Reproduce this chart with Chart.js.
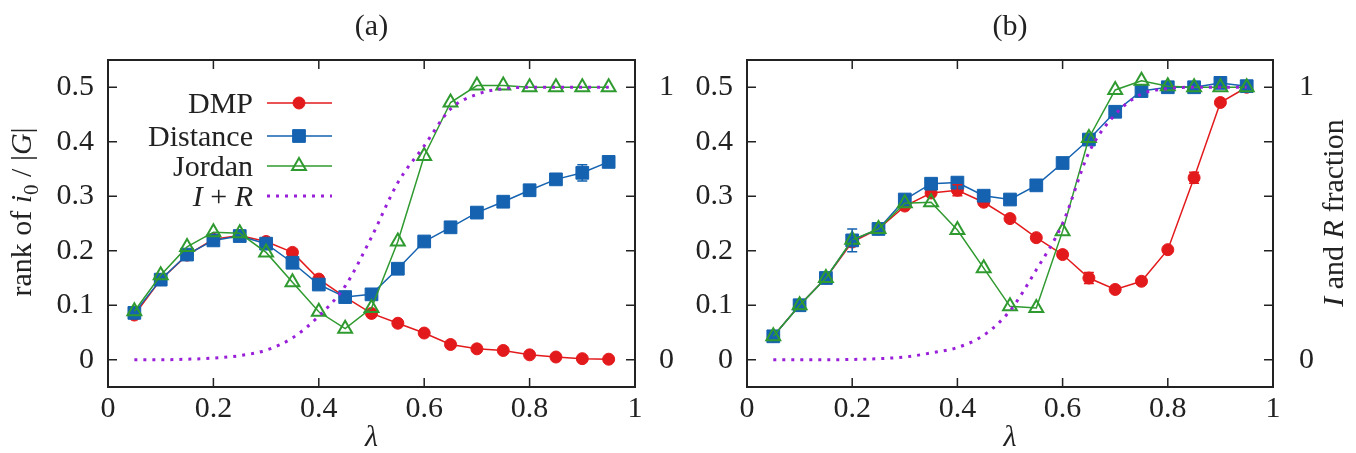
<!DOCTYPE html>
<html>
<head>
<meta charset="utf-8">
<script src="https://cdn.jsdelivr.net/npm/chart.js@4.4.1/dist/chart.umd.min.js"></script>
<style>
  body { margin: 0; background: #fff; }
  #wrap { position: relative; width: 1356px; height: 453px; }
  canvas { position: absolute; top: 0; }
</style>
</head>
<body>
<div id="wrap">
  <canvas id="chartA" width="678" height="453" style="left:0"></canvas>
  <canvas id="chartB" width="678" height="453" style="left:678px"></canvas>
</div>
<script>
// ================= DATA =================
const lambda = [0.05, 0.1, 0.15, 0.2, 0.25, 0.3, 0.35, 0.4, 0.45, 0.5,
                0.55, 0.6, 0.65, 0.7, 0.75, 0.8, 0.85, 0.9, 0.95];

// panel (a)
const dmpA      = [0.082, 0.147, 0.192, 0.221, 0.228, 0.217, 0.197, 0.148, 0.115, 0.085,
                   0.067, 0.049, 0.028, 0.020, 0.017, 0.009, 0.005, 0.002, 0.001];
const distanceA = [0.086, 0.147, 0.193, 0.219, 0.227, 0.213, 0.178, 0.138, 0.115, 0.120,
                   0.167, 0.217, 0.243, 0.270, 0.290, 0.311, 0.331, 0.343, 0.363];
const jordanA   = [0.089, 0.155, 0.207, 0.234, 0.232, 0.197, 0.142, 0.088, 0.057, 0.095,
                   0.217, 0.374, 0.472, 0.503, 0.503, 0.500, 0.500, 0.500, 0.500];
const irA       = [0.0, 0.0, 0.002, 0.006, 0.015, 0.035, 0.08, 0.16, 0.27, 0.45,
                   0.65, 0.785, 0.92, 0.974, 0.995, 1.0, 1.0, 1.0, 1.0];
const distanceErrA = [0, 0, 0, 0, 0, 0, 0, 0, 0, 0, 0, 0, 0, 0, 0, 0, 0, 0.015, 0.01];

// panel (b)
const dmpB      = [0.043, 0.100, 0.150, 0.216, 0.240, 0.282, 0.306, 0.311, 0.289, 0.259,
                   0.224, 0.193, 0.150, 0.129, 0.144, 0.202, 0.334, 0.472, 0.500];
const distanceB = [0.043, 0.100, 0.150, 0.219, 0.240, 0.294, 0.323, 0.325, 0.301, 0.294,
                   0.320, 0.361, 0.404, 0.455, 0.493, 0.500, 0.500, 0.508, 0.502];
const jordanB   = [0.043, 0.100, 0.150, 0.220, 0.240, 0.287, 0.289, 0.238, 0.168, 0.098,
                   0.095, 0.236, 0.407, 0.495, 0.512, 0.502, 0.500, 0.500, 0.500];
const irB       = [0.0, 0.0, 0.0, 0.001, 0.004, 0.01, 0.025, 0.045, 0.09, 0.18,
                   0.33, 0.5, 0.76, 0.9, 0.975, 0.995, 1.0, 1.0, 1.0];
const dmpErrB      = [0, 0, 0, 0, 0, 0, 0, 0.01, 0, 0, 0, 0, 0.01, 0, 0, 0, 0.01, 0, 0];
const distanceErrB = [0, 0, 0, 0.021, 0, 0, 0, 0, 0, 0, 0, 0, 0, 0, 0, 0, 0, 0, 0];

// ticks
const xTicks  = [0, 0.2, 0.4, 0.6, 0.8, 1];
const yTicks  = [0, 0.1, 0.2, 0.3, 0.4, 0.5];
const y2Ticks = [0, 1];

// ================= STYLE =================
const FONT = "'Liberation Serif', 'DejaVu Serif', serif";
const FS = 30;
const RED = '#e31a1c';
const BLUE = '#1462b0';
const GREEN = '#2f9a2f';
const PURPLE = '#9a1fd8';
const INK = '#222';
const TICK = 9;

function pts(vals) {
    return vals.map((v, i) => ({ x: lambda[i], y: v }));
}

function fmt(v) {
    if (v === 0) return '0';
    if (v === 1) return '1';
    return v.toFixed(1);
}

// draw text made of parts with different styles
function drawRich(ctx, parts, x, y, align, rot) {
    ctx.save();
    ctx.translate(x, y);
    ctx.rotate(rot || 0);
    ctx.fillStyle = INK;
    ctx.textBaseline = 'alphabetic';
    ctx.textAlign = 'left';
    const fontOf = p => (p.i ? 'italic ' : '') + (p.sub ? Math.round(FS * 0.7) : FS) + 'px ' + FONT;
    let w = 0;
    parts.forEach(p => { ctx.font = fontOf(p); w += ctx.measureText(p.t).width; });
    let cx = align === 'right' ? -w : align === 'center' ? -w / 2 : 0;
    parts.forEach(p => {
        ctx.font = fontOf(p);
        ctx.fillText(p.t, cx, p.sub ? FS * 0.22 : 0);
        cx += ctx.measureText(p.t).width;
    });
    ctx.restore();
}

// ================= PLUGINS =================
const framePlugin = {
    id: 'frame',
    beforeDatasetsDraw(chart) {
        const { ctx, chartArea: a, scales } = chart;
        ctx.save();
        ctx.strokeStyle = INK;
        ctx.lineWidth = 1.5;
        ctx.beginPath();
        xTicks.forEach(v => {
            const px = scales.x.getPixelForValue(v);
            ctx.moveTo(px, a.bottom); ctx.lineTo(px, a.bottom - TICK);
            ctx.moveTo(px, a.top); ctx.lineTo(px, a.top + TICK);
        });
        yTicks.forEach(v => {
            const py = scales.y.getPixelForValue(v);
            ctx.moveTo(a.left, py); ctx.lineTo(a.left + TICK, py);
            ctx.moveTo(a.right, py); ctx.lineTo(a.right - TICK, py);
        });
        ctx.stroke();
        ctx.lineWidth = 2;
        ctx.strokeRect(a.left, a.top, a.right - a.left, a.bottom - a.top);
        ctx.restore();
    }
};

const errorPlugin = {
    id: 'errbars',
    afterDatasetsDraw(chart) {
        const { ctx } = chart;
        ctx.save();
        chart.data.datasets.forEach(ds => {
            if (!ds.errors) return;
            const ys = chart.scales[ds.yAxisID || 'y'];
            ctx.strokeStyle = ds.borderColor;
            ctx.lineWidth = 1.5;
            ds.errors.forEach((e, i) => {
                if (!e) return;
                const px = chart.scales.x.getPixelForValue(lambda[i]);
                const lo = ys.getPixelForValue(ds.data[i].y - e);
                const hi = ys.getPixelForValue(ds.data[i].y + e);
                ctx.beginPath();
                ctx.moveTo(px, lo); ctx.lineTo(px, hi);
                ctx.moveTo(px - 5, lo); ctx.lineTo(px + 5, lo);
                ctx.moveTo(px - 5, hi); ctx.lineTo(px + 5, hi);
                ctx.stroke();
            });
        });
        ctx.restore();
    }
};

const textPlugin = {
    id: 'texts',
    afterDraw(chart) {
        const { ctx, chartArea: a } = chart;
        const o = chart.options.plugins.texts;
        const mid = (a.left + a.right) / 2;
        drawRich(ctx, [{ t: o.title }], mid, 35, 'center');
        drawRich(ctx, [{ t: 'λ', i: true }], mid, 446, 'center');
        if (o.yTitle) drawRich(ctx, o.yTitle, o.yTitleX, 212, 'center', -Math.PI / 2);
        if (o.y2Title) drawRich(ctx, o.y2Title, o.y2TitleX, 213, 'center', -Math.PI / 2);

        if (!o.legend) return;
        // ================= LEGEND =================
        const rows = [103, 136, 166, 196];
        chart.data.datasets.forEach((ds, k) => {
            const y = rows[k];
            drawRich(ctx, ds.legendParts, 253, y + 10, 'right');
            ctx.save();
            ctx.strokeStyle = ds.borderColor;
            ctx.lineWidth = ds.borderWidth;
            ctx.setLineDash(ds.borderDash || []);
            ctx.beginPath();
            ctx.moveTo(267, y);
            ctx.lineTo(332, y);
            ctx.stroke();
            ctx.setLineDash([]);
            if (ds.pointRadius > 0) {
                ctx.fillStyle = ds.backgroundColor;
                ctx.lineWidth = ds.pointBorderWidth;
                Chart.helpers.drawPoint(ctx, {
                    pointStyle: ds.pointStyle, radius: ds.pointRadius,
                    borderWidth: ds.pointBorderWidth, rotation: 0
                }, 299, y);
            }
            ctx.restore();
        });
    }
};

// ================= CHART =================
function makeDatasets(dmp, dist, jord, ir, dmpErr, distErr) {
    return [
        {
            label: 'DMP', legendParts: [{ t: 'DMP' }],
            data: pts(dmp), errors: dmpErr, order: 4,
            borderColor: RED, backgroundColor: RED, borderWidth: 1.5,
            pointStyle: 'circle', pointRadius: 6, pointBorderWidth: 1
        },
        {
            label: 'Distance', legendParts: [{ t: 'Distance' }],
            data: pts(dist), errors: distErr, order: 3,
            borderColor: BLUE, backgroundColor: BLUE, borderWidth: 1.5,
            pointStyle: 'rect', pointRadius: 9, pointBorderWidth: 1
        },
        {
            label: 'Jordan', legendParts: [{ t: 'Jordan' }],
            data: pts(jord), order: 2,
            borderColor: GREEN, backgroundColor: 'rgba(255,255,255,0)', borderWidth: 1.5,
            pointStyle: 'triangle', pointRadius: 8, pointBorderWidth: 2
        },
        {
            label: 'I + R',
            legendParts: [{ t: 'I', i: true }, { t: ' + ' }, { t: 'R', i: true }],
            data: pts(ir), yAxisID: 'y2', order: 1,
            borderColor: PURPLE, backgroundColor: PURPLE, borderWidth: 3,
            borderDash: [3, 6], pointRadius: 0, pointBorderWidth: 0,
            cubicInterpolationMode: 'monotone'
        }
    ];
}

function makePanel(id, datasets, yWidth, y2Width, y2Pad, texts) {
    const tickFont = { family: FONT, size: FS };
    new Chart(document.getElementById(id), {
        type: 'line',
        data: { datasets: datasets },
        plugins: [framePlugin, errorPlugin, textPlugin],
        options: {
            responsive: false,
            animation: false,
            layout: { padding: { top: 60, left: 0, right: 0, bottom: 0 } },
            plugins: { legend: { display: false }, tooltip: { enabled: false }, texts: texts },
            scales: {
                x: {
                    type: 'linear', min: 0, max: 1,
                    afterBuildTicks: s => { s.ticks = xTicks.map(v => ({ value: v })); },
                    afterFit: s => { s.height = 66; },
                    grid: { display: false, drawTicks: false },
                    border: { display: false },
                    ticks: { font: tickFont, color: INK, padding: 4, maxRotation: 0, callback: fmt }
                },
                y: {
                    type: 'linear', position: 'left', min: -0.05, max: 0.55,
                    afterBuildTicks: s => { s.ticks = yTicks.map(v => ({ value: v })); },
                    afterFit: s => { s.width = yWidth; },
                    grid: { display: false, drawTicks: false },
                    border: { display: false },
                    ticks: { font: tickFont, color: INK, padding: 14, callback: fmt }
                },
                y2: {
                    type: 'linear', position: 'right', min: -0.1, max: 1.1,
                    afterBuildTicks: s => { s.ticks = y2Ticks.map(v => ({ value: v })); },
                    afterFit: s => { s.width = y2Width; },
                    grid: { display: false, drawTicks: false },
                    border: { display: false },
                    ticks: { font: tickFont, color: INK, padding: y2Pad, callback: fmt }
                }
            }
        }
    });
}

makePanel('chartA', makeDatasets(dmpA, distanceA, jordanA, irA, null, distanceErrA), 108, 43, 24, {
    title: '(a)', legend: true, yTitleX: 31,
    yTitle: [{ t: 'rank of ' }, { t: 'i', i: true }, { t: '0', sub: true }, { t: ' / |' }, { t: 'G', i: true }, { t: '|' }]
});

makePanel('chartB', makeDatasets(dmpB, distanceB, jordanB, irB, dmpErrB, distanceErrB), 69, 83, 26, {
    title: '(b)', legend: false, y2TitleX: 665,
    y2Title: [{ t: 'I', i: true }, { t: ' and ' }, { t: 'R', i: true }, { t: ' fraction' }]
});
</script>
</body>
</html>
